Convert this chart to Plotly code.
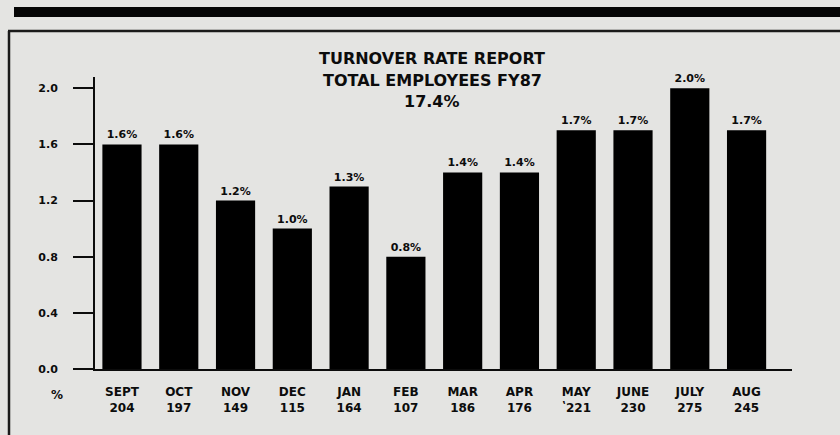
import plotly.graph_objects as go

# Monthly turnover, FY87
months = ["SEPT", "OCT", "NOV", "DEC", "JAN", "FEB", "MAR", "APR", "MAY", "JUNE", "JULY", "AUG"]
separations = ["204", "197", "149", "115", "164", "107", "186", "176", "\u02bd221", "230", "275", "245"]
rates = [1.6, 1.6, 1.2, 1.0, 1.3, 0.8, 1.4, 1.4, 1.7, 1.7, 2.0, 1.7]
y_ticks = [0.0, 0.4, 0.8, 1.2, 1.6, 2.0]
title_lines = ["TURNOVER RATE REPORT", "TOTAL EMPLOYEES FY87", "17.4%"]

W, H = 840, 435
L, R, T, B = 95, 48, 77, 66
PAPER = "#e4e4e2"
INK = "#0c0c0c"
FONT = "DejaVu Sans"


def px_x(px):
    return (px - L) / (W - L - R)


def px_y(py):
    return (H - B - py) / (H - T - B)


fig = go.Figure(
    go.Bar(
        x=list(range(len(months))),
        y=rates,
        marker=dict(color="#000000", line=dict(width=0)),
        text=[f"{v:.1f}%" for v in rates],
        textposition="outside",
        textfont=dict(family=FONT, size=11, color=INK, weight="bold"),
        constraintext="none",
        cliponaxis=False,
        width=0.69,
    )
)

fig.update_xaxes(
    range=[-0.475, 11.8],
    tickvals=list(range(len(months))),
    ticktext=[f"{m}<br>{n}" for m, n in zip(months, separations)],
    tickfont=dict(family=FONT, size=12, color=INK, weight="bold"),
    showline=True,
    linecolor=INK,
    linewidth=2,
    ticks="",
    showgrid=False,
    zeroline=False,
    ticklabelstandoff=11,
)

fig.update_yaxes(
    range=[0, 2.08],
    tickvals=y_ticks,
    ticktext=[f"{v:.1f}" for v in y_ticks],
    tickfont=dict(family=FONT, size=11, color=INK, weight="bold"),
    showline=True,
    linecolor=INK,
    linewidth=2,
    ticks="outside",
    ticklen=20,
    tickwidth=2,
    tickcolor=INK,
    showgrid=False,
    zeroline=False,
    ticklabelstandoff=13,
)

annotations = []
for line, py in zip(title_lines, [59, 80, 101]):
    annotations.append(
        dict(
            text=line,
            x=px_x(432),
            y=px_y(py),
            xref="paper",
            yref="paper",
            showarrow=False,
            xanchor="center",
            yanchor="middle",
            font=dict(family=FONT, size=16, color=INK, weight="bold"),
        )
    )
annotations.append(
    dict(
        text="%",
        x=px_x(57),
        y=px_y(395),
        xref="paper",
        yref="paper",
        showarrow=False,
        xanchor="center",
        yanchor="middle",
        font=dict(family=FONT, size=12, color=INK, weight="bold"),
    )
)

shapes = [
    # heavy rule above the box
    dict(type="rect", xref="paper", yref="paper",
         x0=px_x(14), x1=px_x(842), y0=px_y(17), y1=px_y(7),
         fillcolor="#050505", line=dict(width=0), layer="above"),
    # box top edge
    dict(type="line", xref="paper", yref="paper",
         x0=px_x(8), x1=px_x(842), y0=px_y(31), y1=px_y(31),
         line=dict(color="#1a1a1a", width=2.5)),
    # box left edge
    dict(type="line", xref="paper", yref="paper",
         x0=px_x(9), x1=px_x(9), y0=px_y(31), y1=px_y(440),
         line=dict(color="#1a1a1a", width=2.5)),
]

fig.update_layout(
    width=W,
    height=H,
    margin=dict(l=L, r=R, t=T, b=B, pad=0),
    paper_bgcolor=PAPER,
    plot_bgcolor=PAPER,
    showlegend=False,
    bargap=0.31,
    annotations=annotations,
    shapes=shapes,
    font=dict(family=FONT, color=INK),
)

fig.write_html("out.html")
